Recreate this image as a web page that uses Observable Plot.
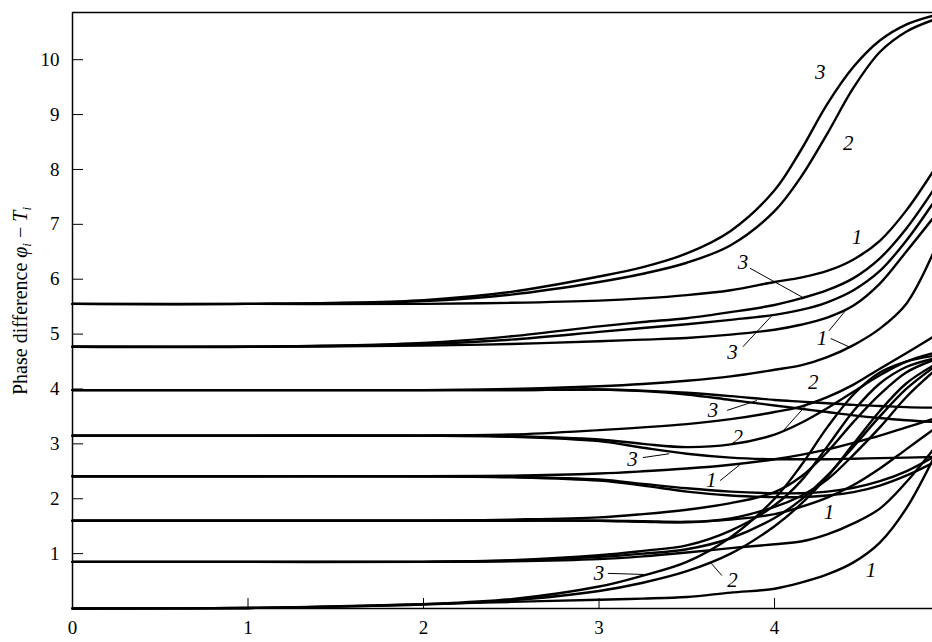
<!DOCTYPE html>
<html>
<head>
<meta charset="utf-8">
<script src="https://cdn.jsdelivr.net/npm/d3@7"></script>
<script src="https://cdn.jsdelivr.net/npm/@observablehq/plot@0.6"></script>
<style>
  html, body { margin: 0; padding: 0; background: #fff; }
  #chart { width: 932px; height: 642px; }
</style>
</head>
<body>
<div id="chart"></div>
<script>
// Common abscissa grid shared by every trajectory
const xGrid = [0, 1, 2, 2.5, 3, 3.25, 3.5, 3.75, 4, 4.15, 4.3, 4.45, 4.6, 4.75, 4.9];

// Oscillator 8 (initial phase ≈ 5.55)
const osc8_case3 = [5.55, 5.55, 5.62, 5.77, 6.05, 6.22, 6.47, 6.88, 7.62, 8.35, 9.19, 9.87, 10.35, 10.64, 10.8];
const osc8_case2 = [5.55, 5.55, 5.6, 5.72, 5.95, 6.1, 6.3, 6.62, 7.24, 7.86, 8.65, 9.49, 10.14, 10.51, 10.72];
const osc8_case1 = [5.55, 5.55, 5.55, 5.57, 5.61, 5.65, 5.71, 5.8, 5.95, 6.03, 6.15, 6.36, 6.7, 7.25, 7.95];

// Oscillator 7 (≈ 4.77)
const osc7_case3 = [4.77, 4.77, 4.84, 4.96, 5.14, 5.22, 5.29, 5.4, 5.53, 5.65, 5.8, 6.02, 6.38, 6.92, 7.6];
const osc7_case2 = [4.77, 4.77, 4.82, 4.9, 5.04, 5.11, 5.18, 5.26, 5.35, 5.44, 5.58, 5.8, 6.15, 6.7, 7.37];
const osc7_case1 = [4.77, 4.77, 4.79, 4.82, 4.87, 4.9, 4.93, 4.99, 5.08, 5.17, 5.3, 5.52, 5.92, 6.5, 7.1];

// Oscillator 6 (≈ 3.98)
const osc6_case1 = [3.98, 3.98, 3.98, 4.0, 4.05, 4.09, 4.15, 4.23, 4.35, 4.43, 4.58, 4.8, 5.1, 5.55, 6.45];
const osc6_case2 = [3.98, 3.98, 3.98, 3.98, 3.99, 3.97, 3.93, 3.87, 3.8, 3.77, 3.74, 3.71, 3.69, 3.67, 3.66];
const osc6_case3 = [3.98, 3.98, 3.98, 3.98, 3.99, 3.96, 3.9, 3.8, 3.7, 3.64, 3.58, 3.52, 3.47, 3.43, 3.4];

// Oscillator 5 (≈ 3.15)
const osc5_case1 = [3.15, 3.15, 3.15, 3.17, 3.25, 3.3, 3.36, 3.45, 3.58, 3.68, 3.85, 4.08, 4.37, 4.65, 4.94];
const osc5_case2 = [3.15, 3.15, 3.15, 3.14, 3.08, 3.0, 2.94, 2.99, 3.17, 3.38, 3.65, 3.95, 4.25, 4.5, 4.65];
const osc5_case3 = [3.15, 3.15, 3.15, 3.13, 3.05, 2.93, 2.82, 2.75, 2.72, 2.72, 2.72, 2.73, 2.74, 2.75, 2.76];

// Oscillator 4 (≈ 2.41)
const osc4_case1 = [2.41, 2.41, 2.41, 2.42, 2.46, 2.5, 2.55, 2.62, 2.72, 2.8, 2.9, 3.02, 3.15, 3.3, 3.45];
const osc4_case2 = [2.41, 2.41, 2.41, 2.4, 2.35, 2.27, 2.19, 2.13, 2.1, 2.1, 2.13, 2.2, 2.32, 2.5, 2.75];
const osc4_case3 = [2.41, 2.41, 2.41, 2.39, 2.33, 2.24, 2.13, 2.06, 2.03, 2.03, 2.06, 2.12, 2.24, 2.42, 2.65];

// Oscillator 3 (≈ 1.6)
const osc3_case1 = [1.6, 1.6, 1.6, 1.6, 1.6, 1.59, 1.58, 1.62, 1.72, 1.85, 2.02, 2.25, 2.55, 2.9, 3.25];
const osc3_case2 = [1.6, 1.6, 1.6, 1.6, 1.6, 1.58, 1.57, 1.64, 1.85, 2.05, 2.35, 2.8, 3.3, 3.85, 4.3];
const osc3_case3 = [1.6, 1.6, 1.6, 1.62, 1.66, 1.72, 1.8, 1.92, 2.12, 2.4, 2.85, 3.4, 3.9, 4.3, 4.52];

// Oscillator 2 (≈ 0.85)
const osc2_case1 = [0.85, 0.85, 0.85, 0.86, 0.9, 0.95, 1.02, 1.1, 1.17, 1.22, 1.35, 1.55, 1.82, 2.3, 2.88];
const osc2_case2 = [0.85, 0.85, 0.85, 0.87, 0.94, 1.0, 1.08, 1.28, 1.65, 1.98, 2.42, 2.95, 3.5, 4.0, 4.38];
const osc2_case3 = [0.85, 0.85, 0.85, 0.88, 0.97, 1.05, 1.15, 1.42, 1.88, 2.32, 2.95, 3.6, 4.1, 4.4, 4.55];

// Oscillator 1 (≈ 0)
const osc1_case1 = [0, 0.01, 0.08, 0.12, 0.16, 0.18, 0.21, 0.29, 0.36, 0.47, 0.62, 0.84, 1.2, 1.82, 2.7];
const osc1_case2 = [0, 0.01, 0.07, 0.15, 0.32, 0.47, 0.68, 1.0, 1.5, 1.9, 2.4, 3.0, 3.6, 4.1, 4.42];
const osc1_case3 = [0, 0.01, 0.08, 0.17, 0.4, 0.6, 0.85, 1.3, 2.0, 2.6, 3.3, 3.9, 4.3, 4.5, 4.6];

// Axis ticks
const xTickValues = [0, 1, 2, 3, 4];
const yTickValues = [1, 2, 3, 4, 5, 6, 7, 8, 9, 10];
const xMax = 4.9;
const yMax = 10.86;

// Curve labels (case numbers) and their leader lines
const labelText = ["3", "2", "1", "3", "3", "1", "2", "3", "2", "3", "1", "1", "3", "2", "1"];
const labelX = [4.26, 4.42, 4.47, 3.82, 3.76, 4.27, 4.22, 3.65, 3.79, 3.19, 3.64, 4.31, 3.0, 3.76, 4.55];
const labelY = [9.77, 8.47, 6.76, 6.30, 4.66, 4.92, 4.12, 3.61, 3.12, 2.72, 2.33, 1.75, 0.64, 0.51, 0.69];

const leaderX1 = [3.86, 3.82, 4.31, 4.32, 4.19, 3.73, 3.25, 3.69, 3.05, 3.70];
const leaderY1 = [6.20, 4.77, 5.06, 4.92, 3.74, 3.61, 2.75, 2.33, 0.64, 0.60];
const leaderX2 = [4.16, 3.98, 4.41, 4.43, 4.05, 3.90, 3.40, 3.81, 3.26, 3.64];
const leaderY2 = [5.67, 5.32, 5.45, 4.76, 3.24, 3.79, 2.82, 2.64, 0.62, 0.82];

const series = {
  osc8_case3, osc8_case2, osc8_case1,
  osc7_case3, osc7_case2, osc7_case1,
  osc6_case1, osc6_case2, osc6_case3,
  osc5_case1, osc5_case2, osc5_case3,
  osc4_case1, osc4_case2, osc4_case3,
  osc3_case1, osc3_case2, osc3_case3,
  osc2_case1, osc2_case2, osc2_case3,
  osc1_case1, osc1_case2, osc1_case3
};

const rows = Object.entries(series).flatMap(([id, values]) =>
  values.map((y, i) => ({id, x: xGrid[i], y}))
);
const labels = labelText.map((text, i) => ({text, x: labelX[i], y: labelY[i]}));
const leaders = leaderX1.map((x1, i) => ({x1, y1: leaderY1[i], x2: leaderX2[i], y2: leaderY2[i]}));

const serif = "'Liberation Serif', 'Times New Roman', serif";
const intFormat = d => String(d);

const chart = Plot.plot({
  width: 932,
  height: 642,
  marginLeft: 72,
  marginRight: 0,
  marginTop: 12,
  marginBottom: 34,
  x: {domain: [0, xMax]},
  y: {domain: [0, yMax]},
  style: {fontFamily: serif, fontSize: "19px", background: "#fff", color: "#000"},
  marks: [
    Plot.ruleX([0], {strokeWidth: 1.5}),
    Plot.ruleY([0], {strokeWidth: 1.5}),
    Plot.ruleY([yMax], {strokeWidth: 1.5}),
    Plot.axisX(xTickValues.slice(1), {anchor: "bottom", tickSize: -10, tickFormat: () => "", label: null}),
    Plot.axisX(xTickValues, {anchor: "bottom", tickSize: 0, tickPadding: 12, tickFormat: intFormat, label: null}),
    Plot.axisY(yTickValues, {anchor: "left", tickSize: -11, tickFormat: () => "", label: null}),
    Plot.axisY(yTickValues, {anchor: "left", tickSize: 0, tickPadding: 13, tickFormat: intFormat, label: null}),
    Plot.line(rows, {x: "x", y: "y", z: "id", curve: "catmull-rom", stroke: "#000", strokeWidth: 2.4}),
    Plot.link(leaders, {x1: "x1", y1: "y1", x2: "x2", y2: "y2", stroke: "#000", strokeWidth: 1}),
    Plot.text(labels, {x: "x", y: "y", text: "text", fontStyle: "italic", fontSize: 21, textAnchor: "middle", lineAnchor: "middle", fill: "#000"})
  ]
});

// Rotated y-axis title with italic symbols and subscripts
const title = d3.select(chart).append("text")
  .attr("transform", "translate(27,301) rotate(-90)")
  .attr("text-anchor", "middle")
  .attr("fill", "#000")
  .style("font-family", serif)
  .style("font-size", "20px");
title.append("tspan").text("Phase difference ");
title.append("tspan").attr("font-style", "italic").text("φ");
title.append("tspan").attr("font-style", "italic").attr("font-size", "13px").attr("dy", "4").text("i");
title.append("tspan").attr("dy", "-4").text(" − ");
title.append("tspan").attr("font-style", "italic").text("T");
title.append("tspan").attr("font-style", "italic").attr("font-size", "13px").attr("dy", "4").text("i");

document.getElementById("chart").appendChild(chart);
</script>
</body>
</html>
